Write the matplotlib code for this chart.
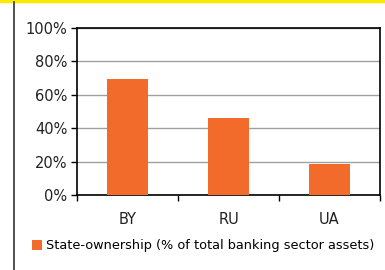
import matplotlib
matplotlib.use("Agg")
import matplotlib.pyplot as plt
from matplotlib.lines import Line2D
from matplotlib.patches import Patch

countries = ["BY", "RU", "UA"]
state_share = [69.5, 46.0, 18.3]
y_ticks = [0, 20, 40, 60, 80, 100]
y_labels = [f"{t}%" for t in y_ticks]

bar_color = "#F26B2A"

plt.rcParams["font.family"] = ["DejaVu Sans"]

fig = plt.figure(figsize=(3.85, 2.70), dpi=100)
ax = fig.add_axes([77 / 385, 1 - 195 / 270, 303 / 385, 167 / 270])

x = list(range(len(countries)))
ax.bar(x, state_share, width=0.41, color=bar_color, zorder=3)

ax.set_xlim(-0.5, len(countries) - 0.5)
ax.set_ylim(0, 100)
ax.set_yticks(y_ticks)
ax.set_yticklabels(y_labels, fontsize=10.5, color="#222222")
ax.set_xticks(x)
ax.set_xticklabels(countries, fontsize=10.5, color="#222222")
ax.tick_params(axis="x", length=0, pad=12)
ax.set_xticks([i - 0.5 for i in range(len(countries) + 1)], minor=True)
ax.tick_params(axis="x", which="minor", direction="out", length=4, width=1)
ax.tick_params(axis="y", direction="out", length=4, width=1, pad=3)
ax.grid(axis="y", color="#a0a0a0", linewidth=1, zorder=0)
for s in ax.spines.values():
    s.set_color("black")
    s.set_linewidth(1.2)

handle = Patch(facecolor=bar_color, edgecolor="none")
fig.legend([handle], ["State-ownership (% of total banking sector assets)"],
           loc="center left", bbox_to_anchor=(32 / 385, 1 - 246 / 270),
           frameon=False, fontsize=9.3, handlelength=0.8, handleheight=0.9,
           handletextpad=0.3, borderaxespad=0, borderpad=0)

# frame decorations
fig.add_artist(Line2D([0, 1], [1 - 1 / 270, 1 - 1 / 270], transform=fig.transFigure,
                      color="#FFE800", linewidth=2.5))
fig.add_artist(Line2D([14 / 385, 14 / 385], [0, 1 - 2 / 270], transform=fig.transFigure,
                      color="#333333", linewidth=1.2))

fig.savefig("out.png", dpi=100)
